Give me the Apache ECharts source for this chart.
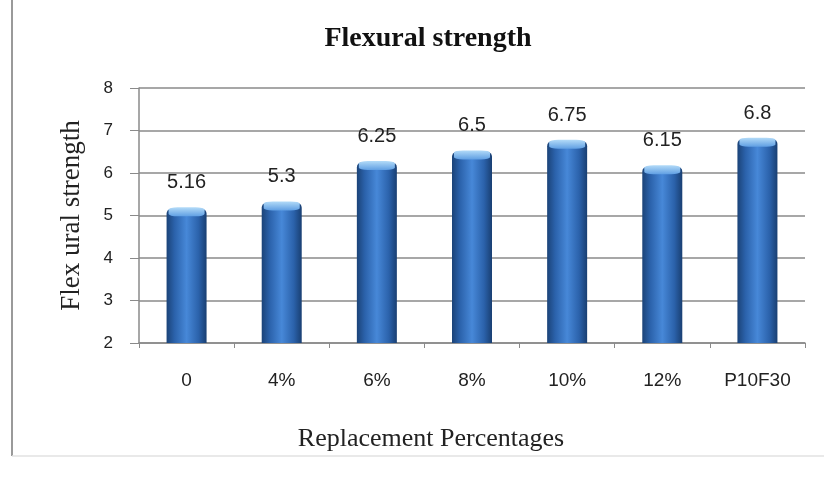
<!DOCTYPE html>
<html>
<head>
<meta charset="utf-8">
<style>
  html, body { margin: 0; padding: 0; background: #fff; }
  #chart { width: 824px; height: 483px; }
</style>
<script src="https://cdn.jsdelivr.net/npm/echarts@6/dist/echarts.min.js"></script>
</head>
<body>
<div id="chart"></div>
<script>
// Flexural strength for each replacement mix
const categories = ['0', '4%', '6%', '8%', '10%', '12%', 'P10F30'];
const strength = [5.16, 5.3, 6.25, 6.5, 6.75, 6.15, 6.8];
const yTicks = { min: 2, max: 8, interval: 1 };

const chart = echarts.init(document.getElementById('chart'), null, { renderer: 'canvas' });

// cylinder-like shading across each bar
const barFill = new echarts.graphic.LinearGradient(0, 0, 1, 0, [
  { offset: 0, color: '#1b4378' },
  { offset: 0.2, color: '#2b62ab' },
  { offset: 0.5, color: '#4788d8' },
  { offset: 0.8, color: '#2b62ab' },
  { offset: 1, color: '#193f72' }
]);

const capFill = new echarts.graphic.LinearGradient(0, 0, 0, 1, [
  { offset: 0, color: '#b3dbf8' },
  { offset: 1, color: '#609fe3' }
]);

chart.setOption({
  animation: false,
  title: {
    text: 'Flexural strength',
    left: 423,
    top: 20,
    textAlign: 'center',
    textStyle: {
      fontFamily: 'Liberation Serif',
      fontWeight: 'bold',
      fontSize: 28,
      color: '#111'
    }
  },
  grid: { left: 139, right: 19, top: 88, bottom: 140 },
  xAxis: {
    type: 'category',
    data: categories,
    name: 'Replacement Percentages',
    nameLocation: 'middle',
    nameGap: 83,
    nameTextStyle: {
      fontFamily: 'Liberation Serif',
      fontSize: 26,
      color: '#222',
      padding: [0, 82, 0, 0]
    },
    axisLine: { lineStyle: { color: '#8a8a8a', width: 1.5 } },
    axisTick: { show: true, length: 5, lineStyle: { color: '#8a8a8a' } },
    axisLabel: { margin: 28, fontFamily: 'Liberation Sans', fontSize: 19, color: '#222' }
  },
  yAxis: {
    type: 'value',
    min: yTicks.min,
    max: yTicks.max,
    interval: yTicks.interval,
    name: 'Flex ural strength',
    nameLocation: 'middle',
    nameGap: 54,
    nameTextStyle: { fontFamily: 'Liberation Serif', fontSize: 27, color: '#222' },
    axisLine: { show: true, lineStyle: { color: '#8a8a8a', width: 1.5 } },
    axisTick: { show: true, length: 9, lineStyle: { color: '#8a8a8a' } },
    axisLabel: { margin: 26, fontFamily: 'Liberation Sans', fontSize: 17, color: '#222' },
    splitLine: { show: true, lineStyle: { color: '#8a8a8a', width: 1.5 } }
  },
  series: [
    {
      type: 'bar',
      data: strength,
      barWidth: 40,
      itemStyle: { color: barFill, borderRadius: [5, 5, 0, 0] },
      label: {
        show: true,
        position: 'top',
        distance: 16,
        fontFamily: 'Liberation Sans',
        fontSize: 20,
        color: '#222'
      },
      z: 2
    },
    {
      type: 'pictorialBar',
      data: strength,
      symbol: 'roundRect',
      symbolSize: [36, 9],
      symbolPosition: 'end',
      symbolOffset: [0, '-15%'],
      itemStyle: { color: capFill },
      silent: true,
      z: 3
    }
  ],
  graphic: [
    { type: 'line', shape: { x1: 12, y1: 0, x2: 12, y2: 456 }, style: { stroke: '#9a9a9a', lineWidth: 2 } },
    { type: 'line', shape: { x1: 12, y1: 456, x2: 824, y2: 456 }, style: { stroke: '#e2e2e2', lineWidth: 1.5 } }
  ]
});
</script>
</body>
</html>
